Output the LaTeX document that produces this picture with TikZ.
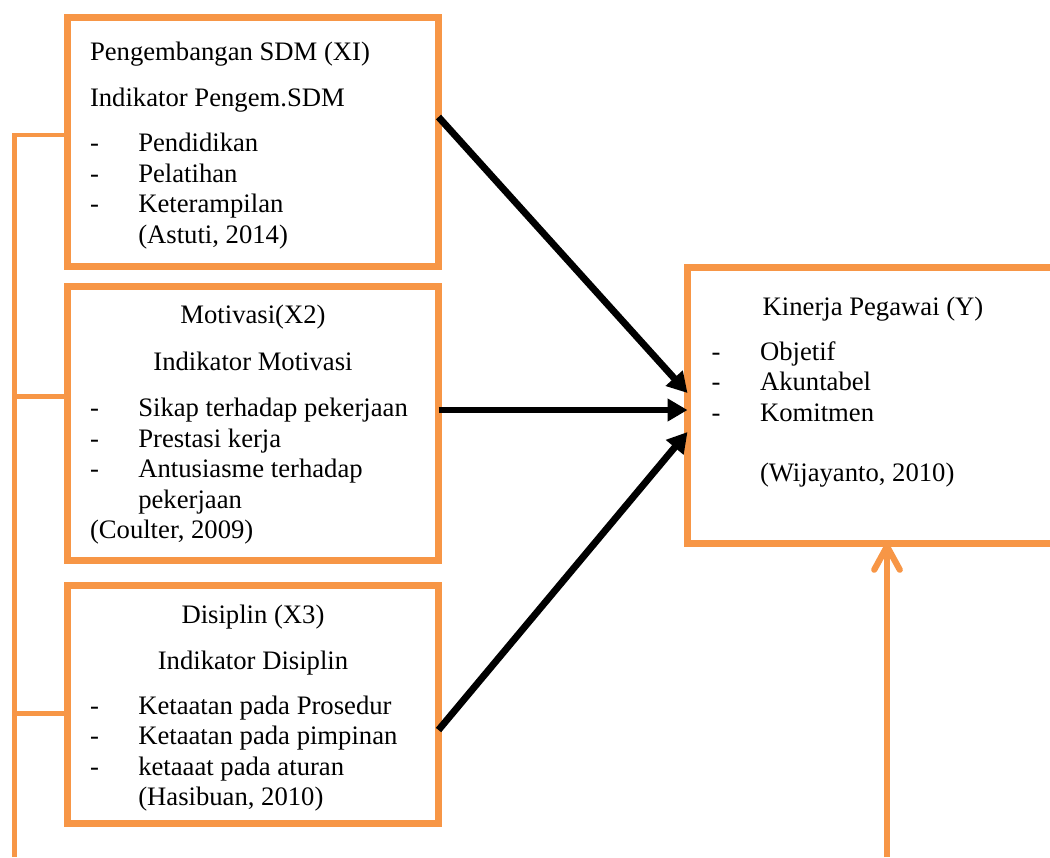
\documentclass[tikz,border=0pt]{standalone}
\usepackage{fontspec}
\setmainfont{Liberation Serif}
\usetikzlibrary{arrows.meta, positioning}
\definecolor{boxorange}{HTML}{F79646}
\newlength{\dpx}
\setlength{\dpx}{0.45pt}
\newcommand{\itm}[1]{\makebox[48.3\dpx][l]{-}#1}

\begin{document}
\begin{tikzpicture}[x=0.45pt, y=-0.45pt,
    box/.style={draw=boxorange, line width=3.15pt, outer sep=0pt, inner xsep=10.125pt,
                inner ysep=0pt, anchor=north west, font=\fontsize{12pt}{13.725pt}\selectfont},
    rail/.style={draw=boxorange, line width=2.2pt},
    flow/.style={line width=3.1pt, -{Triangle[length=9pt, width=9.8pt]}},
    feed/.style={draw=boxorange, line width=2.8pt, -{Straight Barb[length=10.5pt, width=11.5pt, round]}}]
			\useasboundingbox (0,0) rectangle (1050,857);

			% variabel bebas
			\node[box] (xone) at (67.5,17.5) {\parbox[c][249\dpx][t]{326\dpx}{%
				\rule{0pt}{43.2\dpx}Pengembangan SDM (XI)\\[14.8\dpx]
				Indikator Pengem.SDM\\[15.2\dpx]
				\itm{Pendidikan}\\
				\itm{Pelatihan}\\
				\itm{Keterampilan}\\
				\hspace*{48.3\dpx}(Astuti, 2014)}};
			\node[box] (xtwo) at (67.5,286.7) {\parbox[c][273.3\dpx][t]{326\dpx}{%
				\rule{0pt}{36.6\dpx}\makebox[\linewidth]{Motivasi(X2)}\\[16.2\dpx]
				\makebox[\linewidth]{Indikator Motivasi}\\[16.2\dpx]
				\itm{Sikap terhadap pekerjaan}\\
				\itm{Prestasi kerja}\\
				\itm{Antusiasme terhadap}\\
				\hspace*{48.3\dpx}pekerjaan\\
				(Coulter, 2009)}};
			\node[box] (xthree) at (67.5,585) {\parbox[c][238.3\dpx][t]{326\dpx}{%
				\rule{0pt}{38.3\dpx}\makebox[\linewidth]{Disiplin (X3)}\\[15.5\dpx]
				\makebox[\linewidth]{Indikator Disiplin}\\[14.2\dpx]
				\itm{Ketaatan pada Prosedur}\\
				\itm{Ketaatan pada pimpinan}\\
				\itm{ketaaat pada aturan}\\
				\hspace*{48.3\dpx}(Hasibuan, 2010)}};

			% variabel terikat
			\node[box, inner xsep=10.89pt] (yone) at (687.5,267.3) {\parbox[c][276\dpx][t]{322.6\dpx}{%
				\rule{0pt}{47.7\dpx}\makebox[\linewidth]{Kinerja Pegawai (Y)}\\[14.5\dpx]
				\itm{Objetif}\\
				\itm{Akuntabel}\\
				\itm{Komitmen}\\[29.5\dpx]
				\hspace*{48.3\dpx}(Wijayanto, 2010)}};

			% garis simultan
			\coordinate (rtop) at (14.5,135);
			\coordinate (rmid) at (14.5,396.7);
			\coordinate (rlow) at (14.5,713.3);
			\coordinate (rend) at (14.5,857);
			\draw[rail] (rend) -- (rtop) -- (rtop -| xone.west);
			\draw[rail] (rmid) -- (rmid -| xtwo.west);
			\draw[rail] (rlow) -- (rlow -| xthree.west);

			\coordinate (fbase) at (887,857);
			\draw[feed] (fbase) -- (fbase |- yone.south);

			% pengaruh parsial
			\draw[flow] (xone.east |- 0,117) -- (yone.west |- 0,393);
			\draw[flow] (xtwo.east |- 0,410) -- (yone.west |- 0,410);
			\draw[flow] (xthree.east |- 0,730) -- (yone.west |- 0,432);
		\end{tikzpicture}
\end{document}
